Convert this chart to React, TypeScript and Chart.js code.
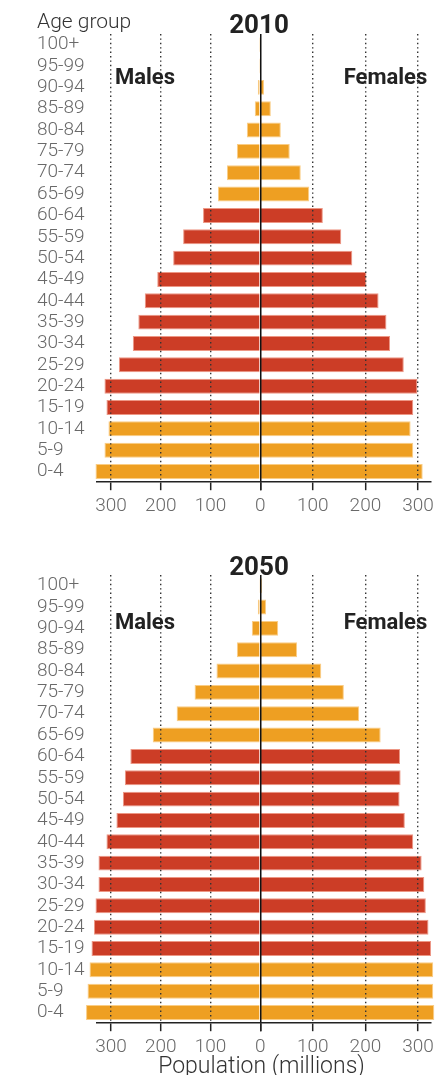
import React, { useEffect, useRef } from 'react';
import { Chart, registerables } from 'chart.js';

Chart.register(...registerables);

const ageGroups = ['100+', '95-99', '90-94', '85-89', '80-84', '75-79', '70-74', '65-69', '60-64', '55-59', '50-54', '45-49', '40-44', '35-39', '30-34', '25-29', '20-24', '15-19', '10-14', '5-9', '0-4'];

const males2010 = [0.3, 0.6, 5, 11, 27, 47, 67, 85, 115, 155, 175, 207, 232, 245, 256, 284, 313, 309, 305, 313, 331];
const females2010 = [0.6, 1.5, 7, 20, 39, 56, 77, 93, 119, 154, 175, 202, 225, 240, 247, 273, 299, 291, 286, 291, 309];

const males2050 = [0.8, 5, 17, 47, 88, 132, 168, 216, 261, 272, 276, 289, 309, 325, 325, 331, 334, 339, 343, 347, 350];
const females2050 = [3, 11, 34, 70, 116, 159, 188, 229, 266, 267, 265, 275, 291, 307, 312, 315, 320, 325, 329, 329, 331];

const xTickValues = [0, 100, 200, 300];

const ORANGE = '#EE9F22';
const RED = '#CC3D26';
const LABEL_FONT = 'Roboto, "Open Sans", sans-serif';
const LABEL_COLOR = '#696969';

const barColors = ageGroups.map((g) => {
  const low = parseInt(g, 10);
  return low < 15 || low >= 65 ? ORANGE : RED;
});
const edgeColors = barColors.map((c) => (c === ORANGE ? 'rgba(250,200,120,0.9)' : 'rgba(235,140,120,0.9)'));

function axisOptions(side: 'm' | 'f') {
  return {
    type: 'linear',
    position: 'bottom',
    stack: 'pop',
    stackWeight: side === 'm' ? 163.3 : 170.7,
    reverse: side === 'm',
    min: 0,
    max: side === 'm' ? 328 : 324.8,
    afterBuildTicks: (scale: any) => {
      scale.ticks = xTickValues.map((v) => ({ value: v }));
    },
    ticks: {
      includeBounds: false,
      maxRotation: 0,
      minRotation: 0,
      autoSkip: false,
      padding: 5,
      color: LABEL_COLOR,
      font: { family: LABEL_FONT, size: 19, weight: '300' },
      callback: (v: any) => (side === 'f' && v === 0 ? '' : String(v)),
    },
    grid: {
      z: 1,
      drawTicks: true,
      tickLength: 8,
      tickWidth: 1.5,
      tickColor: '#222',
      tickBorderDash: [],
      color: (ctx: any) => {
        const v = ctx.tick ? ctx.tick.value : null;
        if (v === 0) return side === 'm' ? '#111' : 'rgba(0,0,0,0)';
        return '#333';
      },
      lineWidth: (ctx: any) => (ctx.tick && ctx.tick.value === 0 ? 1.5 : 1.4),
    },
    border: {
      display: true,
      color: '#222',
      width: 1.5,
      z: 1,
      dash: (ctx: any) => (ctx.tick && ctx.tick.value !== 0 ? [1.4, 3] : []),
    },
  };
}

function makeConfig(males: number[], females: number[]): any {
  const common = {
    yAxisID: 'y',
    backgroundColor: barColors,
    borderColor: edgeColors,
    borderWidth: 1,
    grouped: false,
    barPercentage: 0.7,
    categoryPercentage: 1,
    clip: false,
  };
  return {
    type: 'bar',
    data: {
      labels: ageGroups,
      datasets: [
        { ...common, label: 'Males', data: males, xAxisID: 'xm' },
        { ...common, label: 'Females', data: females, xAxisID: 'xf' },
      ],
    },
    options: {
      indexAxis: 'y',
      responsive: false,
      animation: false,
      layout: { padding: { left: 37, right: 15, top: 34, bottom: 7 } },
      plugins: {
        legend: { display: false },
        tooltip: { enabled: false },
        title: { display: false },
      },
      scales: {
        xm: axisOptions('m'),
        xf: axisOptions('f'),
        y: {
          type: 'category',
          position: 'left',
          grid: { display: false },
          border: { display: false },
          afterFit: (scale: any) => {
            scale.width = 60;
          },
          ticks: {
            crossAlign: 'far',
            padding: 0,
            autoSkip: false,
            color: LABEL_COLOR,
            font: { family: LABEL_FONT, size: 19, weight: '300' },
          },
        },
      },
    },
  };
}

function Pyramid({ males, females, top }: { males: number[]; females: number[]; top: number }) {
  const ref = useRef<HTMLCanvasElement | null>(null);
  useEffect(() => {
    if (!ref.current) return;
    const chart = new Chart(ref.current, makeConfig(males, females));
    return () => chart.destroy();
  }, [males, females]);
  return (
    <canvas
      ref={ref}
      width={446}
      height={530}
      style={{ position: 'absolute', left: 0, top, width: 446, height: 530, display: 'block' }}
    />
  );
}

const boldFont = 'Roboto, "Open Sans", sans-serif';

function Txt(props: { text: string; style: React.CSSProperties }) {
  return (
    <div
      style={{
        position: 'absolute',
        whiteSpace: 'nowrap',
        lineHeight: 1,
        margin: 0,
        ...props.style,
      }}
    >
      {props.text}
    </div>
  );
}

export default function App() {
  return (
    <div style={{ position: 'absolute', left: 0, top: 0, width: 446, height: 1075, background: '#fff', overflow: 'hidden' }}>
      <Pyramid males={males2010} females={females2010} top={0} />
      <Pyramid males={males2050} females={females2050} top={541} />

      <Txt text="Age group" style={{ left: 37, top: 10.5, fontFamily: LABEL_FONT, fontWeight: 300, fontSize: 21, color: '#333' }} />
      <Txt text="2010" style={{ left: 259, top: 11.4, transform: 'translateX(-50%)', fontFamily: boldFont, fontWeight: 700, fontSize: 26, color: '#222' }} />
      <Txt text="Males" style={{ left: 115, top: 65.5, fontFamily: boldFont, fontWeight: 700, fontSize: 22, color: '#222' }} />
      <Txt text="Females" style={{ right: 18.7, top: 65.5, fontFamily: boldFont, fontWeight: 700, fontSize: 22, color: '#222' }} />

      <Txt text="2050" style={{ left: 259, top: 553.1, transform: 'translateX(-50%)', fontFamily: boldFont, fontWeight: 700, fontSize: 26, color: '#222' }} />
      <Txt text="Males" style={{ left: 115, top: 610.8, fontFamily: boldFont, fontWeight: 700, fontSize: 22, color: '#222' }} />
      <Txt text="Females" style={{ right: 18.7, top: 610.8, fontFamily: boldFont, fontWeight: 700, fontSize: 22, color: '#222' }} />

      <Txt text="Population (millions)" style={{ left: 261.5, top: 1053.7, transform: 'translateX(-50%)', fontFamily: LABEL_FONT, fontWeight: 300, fontSize: 23, color: '#333' }} />
    </div>
  );
}
